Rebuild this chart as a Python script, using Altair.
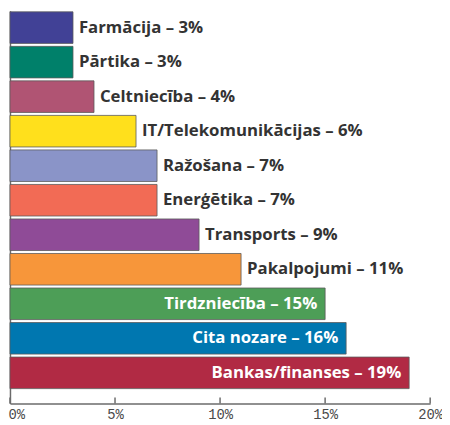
import altair as alt
import pandas as pd

sectors = [
    "Farmācija",
    "Pārtika",
    "Celtniecība",
    "IT/Telekomunikācijas",
    "Ražošana",
    "Enerģētika",
    "Transports",
    "Pakalpojumi",
    "Tirdzniecība",
    "Cita nozare",
    "Bankas/finanses",
]
shares = [3, 3, 4, 6, 7, 7, 9, 11, 15, 16, 19]
colors = [
    "#414196",
    "#00806a",
    "#b05473",
    "#ffe01c",
    "#8a94c8",
    "#f26b55",
    "#8f4b97",
    "#f7963a",
    "#4d9e57",
    "#0077b0",
    "#b12a44",
]
tick_values = [0, 5, 10, 15, 20]

AXIS_GRAY = "#6b6b6b"
PLOT_W = 426
PLOT_H = 398


def main() -> None:
    df = pd.DataFrame({"sector": sectors, "share": shares})
    df["label"] = [f"{s} – {v}%" for s, v in zip(sectors, shares)]
    ticks_df = pd.DataFrame({"tick": tick_values})

    x_scale = alt.Scale(domain=[0, 20], nice=False)
    y_enc = alt.Y(
        "sector:N",
        sort=sectors,
        scale=alt.Scale(paddingInner=3 / 35, paddingOuter=0.2286, align=0.0625),
        axis=alt.Axis(
            title=None,
            labels=False,
            ticks=False,
            domainColor=AXIS_GRAY,
            domainWidth=1.5,
        ),
    )

    bars = (
        alt.Chart(df)
        .mark_bar(stroke="#5a5a5a", strokeWidth=1, strokeOpacity=0.8)
        .encode(
            x=alt.X(
                "share:Q",
                scale=x_scale,
                axis=alt.Axis(
                    values=tick_values,
                    format=".0f",
                    labelExpr="datum.value + '%'",
                    title=None,
                    grid=False,
                    ticks=False,
                    domainColor=AXIS_GRAY,
                    domainWidth=1.5,
                    labelFont="Liberation Mono",
                    labelFontSize=14,
                    labelColor="#4a4a4a",
                    labelPadding=4,
                    labelAlign=alt.expr("datum.value === 0 ? 'left' : 'center'"),
                    labelOffset=alt.expr("datum.value === 0 ? -2 : 0"),
                ),
            ),
            y=y_enc,
            color=alt.Color(
                "sector:N", scale=alt.Scale(domain=sectors, range=colors), legend=None
            ),
        )
    )

    label_style = dict(
        baseline="middle", font="Open Sans", fontWeight="bold", fontSize=17
    )

    outside = (
        alt.Chart(df)
        .transform_filter("datum.share < 15")
        .mark_text(align="left", dx=6, color="#333333", **label_style)
        .encode(x=alt.X("share:Q", scale=x_scale), y=y_enc, text="label:N")
    )

    inside = (
        alt.Chart(df)
        .transform_filter("datum.share >= 15")
        .mark_text(align="right", dx=-8, color="white", **label_style)
        .encode(x=alt.X("share:Q", scale=x_scale), y=y_enc, text="label:N")
    )

    tick_marks = (
        alt.Chart(ticks_df)
        .mark_rule(color=AXIS_GRAY, strokeWidth=1.5)
        .encode(
            x=alt.X("tick:Q", scale=x_scale),
            y=alt.value(PLOT_H - 6),
            y2=alt.value(PLOT_H),
        )
    )

    chart = (
        alt.layer(bars, tick_marks, outside, inside)
        .properties(
            width=PLOT_W,
            height=PLOT_H,
            autosize=alt.AutoSizeParams(type="none"),
            padding={"left": 2, "top": 0, "right": 12, "bottom": 19},
        )
        .configure_view(stroke=None)
    )

    chart.save("out.html", embed_options={"renderer": "svg", "actions": False})


if __name__ == "__main__":
    main()
